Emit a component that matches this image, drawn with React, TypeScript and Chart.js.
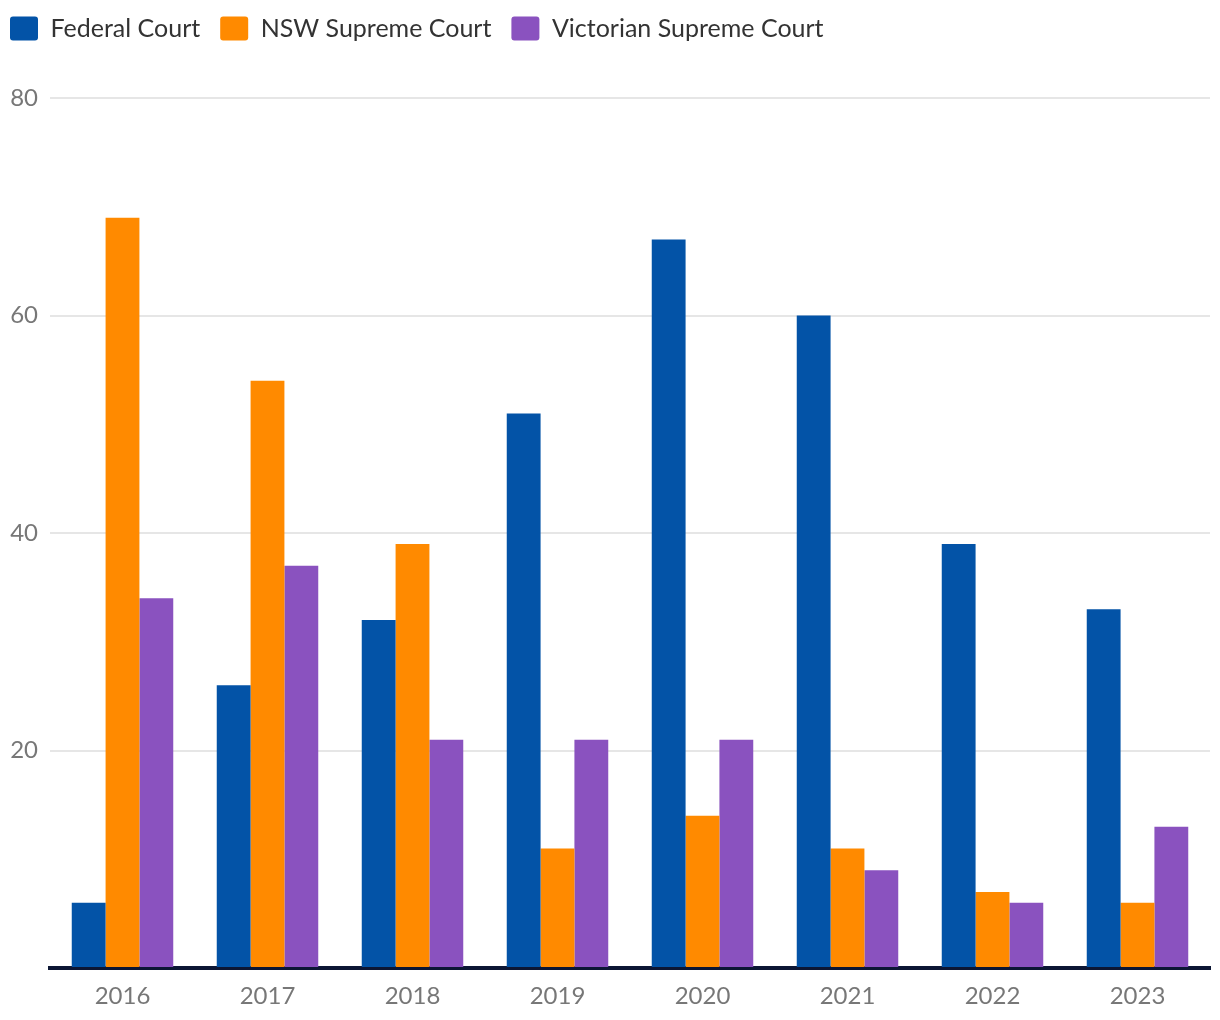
import React, { useEffect, useRef } from "react";
import { Chart, registerables } from "chart.js";

Chart.register(...registerables);

const years = ["2016", "2017", "2018", "2019", "2020", "2021", "2022", "2023"];
const federalCourt = [6, 26, 32, 51, 67, 60, 39, 33];
const nswSupremeCourt = [69, 54, 39, 11, 14, 11, 7, 6];
const vicSupremeCourt = [34, 37, 21, 21, 21, 9, 6, 13];
const yTicks = [0, 20, 40, 60, 80];

const FONT = "Lato, 'Noto Sans', sans-serif";

export default function App() {
  const ref = useRef<HTMLCanvasElement | null>(null);

  useEffect(() => {
    if (!ref.current) return;
    const layoutPlugin = {
      id: "layoutTweak",
      beforeInit(chart: any) {
        const lg = chart.legend;
        if (lg) {
          const fit = lg.fit;
          lg.fit = function () {
            fit.call(this);
            this.height = 98;
          };
        }
      },
      afterLayout(chart: any) {
        if (chart.legend) {
          chart.legend.left = -10;
          chart.legend.top = -4;
        }
      },
    };
    const chart = new Chart(ref.current, {
      type: "bar",
      data: {
        labels: years,
        datasets: [
          { label: "Federal Court", data: federalCourt, backgroundColor: "#0353A7", borderWidth: 0 },
          { label: "NSW Supreme Court", data: nswSupremeCourt, backgroundColor: "#FF8A00", borderWidth: 0 },
          { label: "Victorian Supreme Court", data: vicSupremeCourt, backgroundColor: "#8A52BF", borderWidth: 0 },
        ],
      },
      options: {
        animation: false,
        responsive: true,
        maintainAspectRatio: false,
        layout: { padding: { left: 0, right: 10, top: 0, bottom: 0 } },
        datasets: { bar: { categoryPercentage: 0.7, barPercentage: 1.0 } },
        plugins: {
          tooltip: { enabled: false },
          legend: {
            display: true,
            position: "top",
            align: "start",
            labels: {
              boxWidth: 28,
              boxHeight: 24,
              padding: 20,
              useBorderRadius: true,
              borderRadius: 3,
              color: "#333333",
              font: { family: FONT, size: 25 },
            },
          },
        },
        scales: {
          x: {
            grid: { display: false, drawTicks: false },
            border: { display: true, color: "#0C1634", width: 4 },
            ticks: { color: "#777777", font: { family: FONT, size: 24 }, padding: 14 },
            afterFit(scale: any) {
              scale.height = 52;
            },
          },
          y: {
            min: 0,
            max: 80,
            afterBuildTicks(scale: any) {
              scale.ticks = yTicks.map((v) => ({ value: v }));
            },
            grid: { color: "#E6E6E6", lineWidth: 2, drawTicks: false },
            border: { display: false },
            ticks: {
              color: "#777777",
              font: { family: FONT, size: 24 },
              padding: 12,
              callback: (v: any) => (v === 0 ? "" : String(v)),
            },
            afterFit(scale: any) {
              scale.width = 50;
            },
          },
        },
      },
      plugins: [layoutPlugin],
    } as any);
    return () => chart.destroy();
  }, []);

  return (
    <div style={{ position: "absolute", left: 0, top: 0, width: 1220, height: 1020, background: "#ffffff" }}>
      <canvas ref={ref} />
    </div>
  );
}
